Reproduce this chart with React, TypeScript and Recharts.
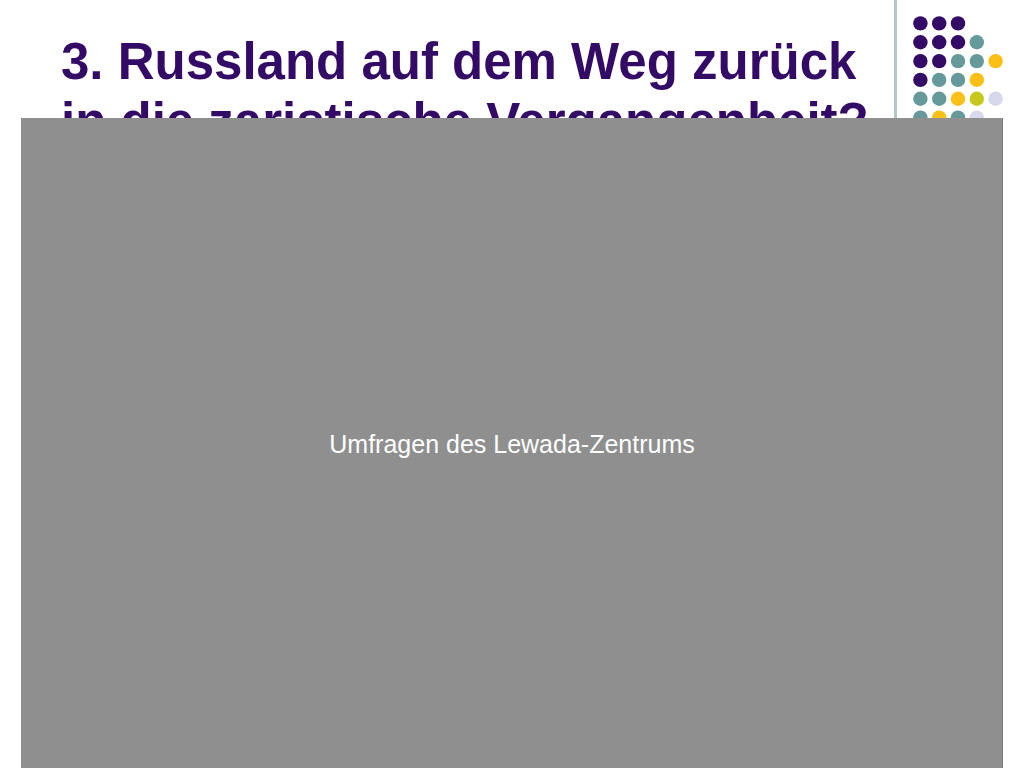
import React from "react";
import { ScatterChart, Scatter, XAxis, YAxis, Cell } from "recharts";

// decorative dot grid (column, row, colour key)
const dotCols = [1, 2, 3, 1, 2, 3, 4, 1, 2, 3, 4, 5, 1, 2, 3, 4, 1, 2, 3, 4, 5, 1, 2, 3, 4];
const dotRows = [1, 1, 1, 2, 2, 2, 2, 3, 3, 3, 3, 3, 4, 4, 4, 4, 5, 5, 5, 5, 5, 6, 6, 6, 6];
const dotTones = [
  "p", "p", "p",
  "p", "p", "p", "t",
  "p", "p", "t", "t", "y",
  "p", "t", "t", "y",
  "t", "t", "y", "o", "l",
  "t", "y", "t", "l",
];

const palette: Record<string, string> = {
  p: "#330a66",
  t: "#669999",
  y: "#fcbf16",
  o: "#c8c81c",
  l: "#d8d8ec",
};

const titleLines = ["3. Russland auf dem Weg zurück", "in die zaristische Vergangenheit?"];
const caption = "Umfragen des Lewada-Zentrums";

const dots = dotCols.map((c, i) => ({ col: c, row: dotRows[i], tone: dotTones[i] }));

const font = '"Liberation Sans", Arial, sans-serif';

export default function App() {
  return (
    <div
      style={{
        position: "absolute",
        left: 0,
        top: 0,
        width: 1024,
        height: 768,
        background: "#fff",
        overflow: "hidden",
        fontFamily: font,
      }}
    >
      {/* title */}
      <div
        style={{
          position: "absolute",
          left: 61,
          top: 32,
          color: "#330a66",
          fontWeight: 700,
          fontSize: 51,
          lineHeight: "60px",
          whiteSpace: "nowrap",
        }}
      >
        {titleLines.map((t) => (
          <div key={t}>{t}</div>
        ))}
      </div>

      {/* vertical rule */}
      <div
        style={{
          position: "absolute",
          left: 894,
          top: 0,
          width: 3,
          height: 130,
          background: "#b2c8c5",
        }}
      />

      {/* dot grid */}
      <div style={{ position: "absolute", left: 910.6, top: 13.6 }}>
        <ScatterChart width={94} height={113} margin={{ top: 0, right: 0, bottom: 0, left: 0 }}>
          <XAxis type="number" dataKey="col" domain={[0.5, 5.5]} hide />
          <YAxis type="number" dataKey="row" domain={[0.5, 6.5]} reversed hide />
          <Scatter
            data={dots}
            isAnimationActive={false}
            shape={(props: any) => <circle cx={props.cx} cy={props.cy} r={7.2} fill={props.fill} />}
          >
            {dots.map((d, i) => (
              <Cell key={i} fill={palette[d.tone]} />
            ))}
          </Scatter>
        </ScatterChart>
      </div>

      {/* placeholder panel */}
      <div
        style={{
          position: "absolute",
          left: 21,
          top: 118,
          width: 981,
          height: 650,
          background: "#8f8f8f",
          borderRight: "1px solid #7a7a7a",
        }}
      />
      <div
        style={{
          position: "absolute",
          left: 21,
          top: 429,
          width: 982,
          textAlign: "center",
          color: "#fff",
          fontSize: 25,
          lineHeight: "30px",
        }}
      >
        {caption}
      </div>
    </div>
  );
}
